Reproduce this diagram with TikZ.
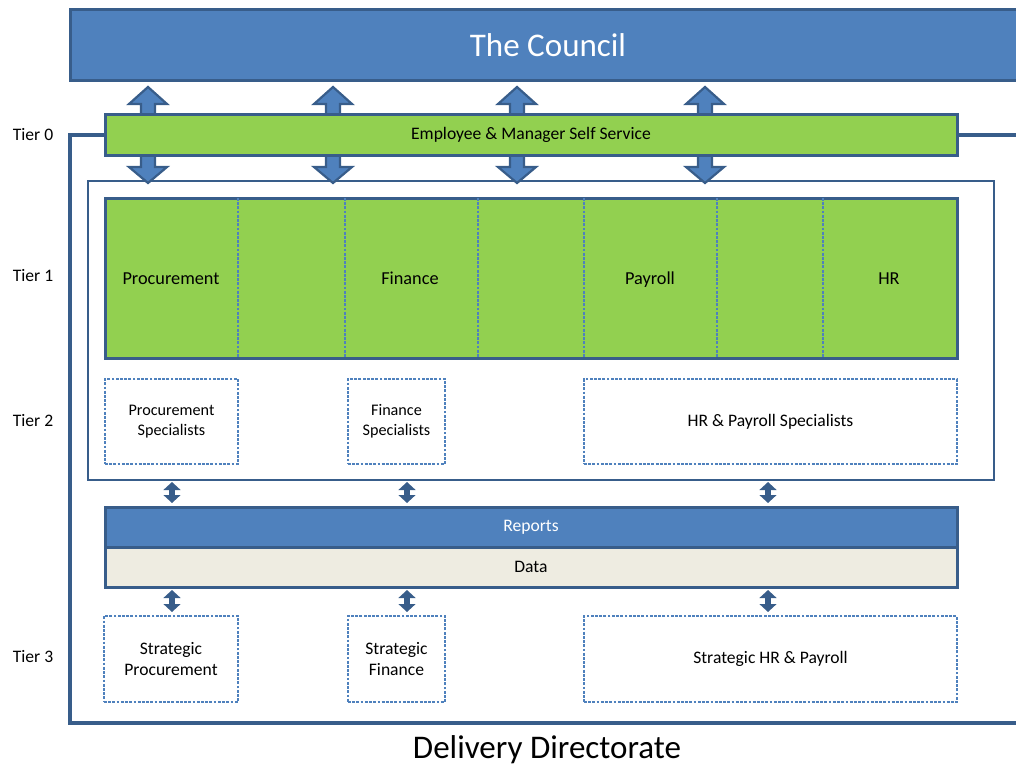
\documentclass[tikz,border=0pt]{standalone}
\usepackage{fontspec}
\setmainfont{Carlito}
\usepackage{tikz}
\usepackage{xcolor}
\usetikzlibrary{arrows.meta, positioning, calc}

\definecolor{cblue}{HTML}{4F81BD}
\definecolor{cdark}{HTML}{385D8A}
\definecolor{cgreen}{HTML}{92D050}
\definecolor{cdata}{HTML}{EEECE1}

\tikzset{
  sz/.style 2 args={minimum width=#1*0.25mm, minimum height=#2*0.25mm, inner sep=0pt, outer sep=0pt},
  bar/.style={draw=cdark, line width=0.75mm},
  specbox/.style={draw=cblue, dash pattern=on 2pt off 1pt, line width=0.3mm, align=center, font=\fontsize{11.5}{14.5}\selectfont},
  stratbox/.style={specbox, font=\fontsize{12.5}{15.5}\selectfont},
  lbl/.style={font=\fontsize{12.5}{15}\selectfont},
  seclbl/.style={font=\fontsize{13}{16}\selectfont, anchor=base},
  biglbl/.style={font=\fontsize{23.5}{28}\selectfont},
  blockarrow/.style={fill=cblue, draw=cdark, line width=0.55mm, line join=miter},
  dblarrow/.style={draw=cdark, line width=1.6mm, {Triangle[length=2mm,width=4.2mm]}-{Triangle[length=2mm,width=4.2mm]}},
  frame/.style={draw=cdark, line width=1mm}
}

\begin{document}
\begin{tikzpicture}[x=0.25mm, y=-0.25mm]
\useasboundingbox (0,0) rectangle (1016,767);

% The council
\node[bar, fill=cblue, sz={952}{71}] (council) at (546,45.5) {};
\node[text=white, biglbl] (counciltxt) at (548,45) {The Council};

% Tier 1/2 frame
\node[draw=cdark, line width=0.3mm, sz={906}{299}] (tierbox) at (541,330.5) {};

% Self service arrows
\foreach \x in {148,333,517,705} {
  \draw[blockarrow] (\x-7,118) -- (\x-7,104) -- (\x-19,104) -- (\x,87) -- (\x+19,104) -- (\x+7,104) -- (\x+7,118) -- cycle;
  \draw[blockarrow] (\x-7,152) -- (\x-7,167) -- (\x-19,167) -- (\x,183) -- (\x+19,167) -- (\x+7,167) -- (\x+7,152) -- cycle;
}

% Tier 0
\node[bar, fill=cgreen, sz={852}{40}, lbl] (ess) at (531,135) {Employee \& Manager Self Service};

% Delivery directorate outline
\coordinate (frametl) at (70,135);
\coordinate (framebl) at (70,723);
\coordinate (framebr) at (1020,723);
\coordinate (frametr) at (1020,135);
\draw[frame] (ess.west) -- (frametl) -- (framebl) -- (framebr);
\draw[frame] (ess.east) -- (frametr);

% Tier 1
\node[bar, fill=cgreen, sz={852}{160}] (tierone) at (531,278) {};
\foreach \x in {238,345,478,584,717,823}
  \draw[cblue, dash pattern=on 2pt off 1pt, line width=0.3mm] (\x,0 |- tierone.north) -- (\x,0 |- tierone.south);
\node[seclbl] (procure) at (171,284) {Procurement};
\node[seclbl] (finance) at (410,284) {Finance};
\node[seclbl] (payroll) at (650,284) {Payroll};
\node[seclbl] (hr) at (889,284) {HR};

% Tier 2
\node[specbox, sz={133}{85}] (specP) at (171.5,421.5) {Procurement\\Specialists};
\node[specbox, sz={97}{85}] (specF) at (396.5,421.5) {Finance\\Specialists};
\node[specbox, sz={373}{85}, font=\fontsize{12.5}{15}\selectfont] (specHR) at (770.5,421.5) {HR \& Payroll Specialists};

% Reports and data
\node[bar, fill=cblue, sz={852}{40}, text=white, lbl] (reports) at (531,527) {Reports};
\node[bar, fill=cdata, sz={852}{40}, lbl] (data) at (531,567) {Data};

% Tier 3
\node[stratbox, sz={134}{86}] (stratP) at (171,659) {Strategic\\Procurement};
\node[stratbox, sz={97}{86}] (stratF) at (396.5,659) {Strategic\\Finance};
\node[stratbox, sz={373}{86}] (stratHR) at (770.5,659) {Strategic HR \& Payroll};

% Links between tiers
\foreach \x in {172,407,768} {
  \draw[dblarrow] ([yshift=-0.5mm]\x,0 |- tierbox.south) -- ([yshift=1mm]\x,0 |- reports.north);
  \draw[dblarrow] ([yshift=-0.75mm]\x,0 |- data.south) -- ([yshift=1mm]\x,0 |- stratP.north);
}

% Tier labels
\node[lbl] (tier0) at (33,135) {Tier 0};
\node[lbl] (tier1) at (33,276) {Tier 1};
\node[lbl] (tier2) at (33,421) {Tier 2};
\node[lbl] (tier3) at (33,657) {Tier 3};

\node[biglbl] (delivery) at (547,750) {Delivery Directorate};
\end{tikzpicture}
\end{document}
